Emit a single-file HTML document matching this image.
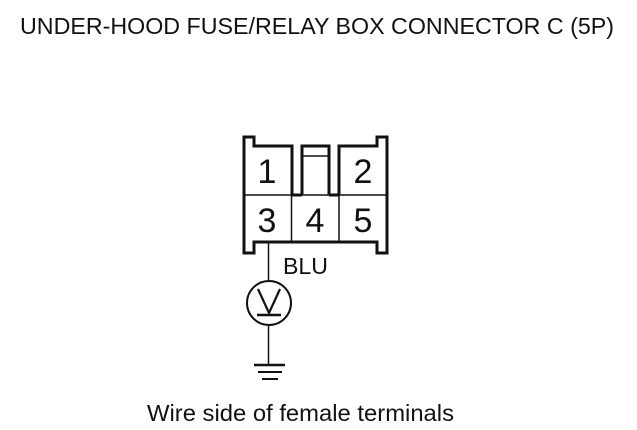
<!DOCTYPE html>
<html>
<head>
<meta charset="utf-8">
<style>
html,body{margin:0;padding:0;background:#fff;width:637px;height:430px;overflow:hidden}
svg{display:block}
text{font-family:"Liberation Sans",sans-serif;fill:#111}
</style>
</head>
<body>
<svg width="637" height="430" viewBox="0 0 637 430" xmlns="http://www.w3.org/2000/svg">
<rect width="637" height="430" fill="#fff"/>
<text x="20" y="34" font-size="23" textLength="594" lengthAdjust="spacingAndGlyphs">UNDER-HOOD FUSE/RELAY BOX CONNECTOR C (5P)</text>
<g fill="none" stroke="#111" stroke-width="3">
<path d="M292 195V146H254V137H244V253H254V242H377V253H387V137H377V146H339V195"/>
<path d="M292 195H302M329 195H339"/>
<path d="M302 195V146H329V195"/>
</g>
<g fill="none" stroke="#111" stroke-width="1.500">
<path d="M244 195H387M291.500 195V242M339 195V242"/>
<path d="M302 156H329"/>
<path d="M268.500 243V281M268.500 325V365"/>
<circle cx="269" cy="303" r="22" stroke-width="2"/>
<path d="M258 289L269 313L280 289" stroke-width="2.200"/>
</g>
<g stroke="#111" fill="none">
<path d="M257 315H281" stroke-width="2.500"/>
<path d="M254 365H285" stroke-width="2.500"/>
<path d="M258 372H282" stroke-width="2"/>
<path d="M262 379H278" stroke-width="2"/>
</g>
<g font-size="34" text-anchor="middle">
<text x="267" y="183">1</text>
<text x="363" y="183">2</text>
<text x="267" y="232">3</text>
<text x="315" y="232">4</text>
<text x="363" y="232">5</text>
</g>
<text x="283" y="274" font-size="23" textLength="45" lengthAdjust="spacingAndGlyphs">BLU</text>
<text x="147" y="421" font-size="23" textLength="307" lengthAdjust="spacingAndGlyphs">Wire side of female terminals</text>
</svg>
</body>
</html>
